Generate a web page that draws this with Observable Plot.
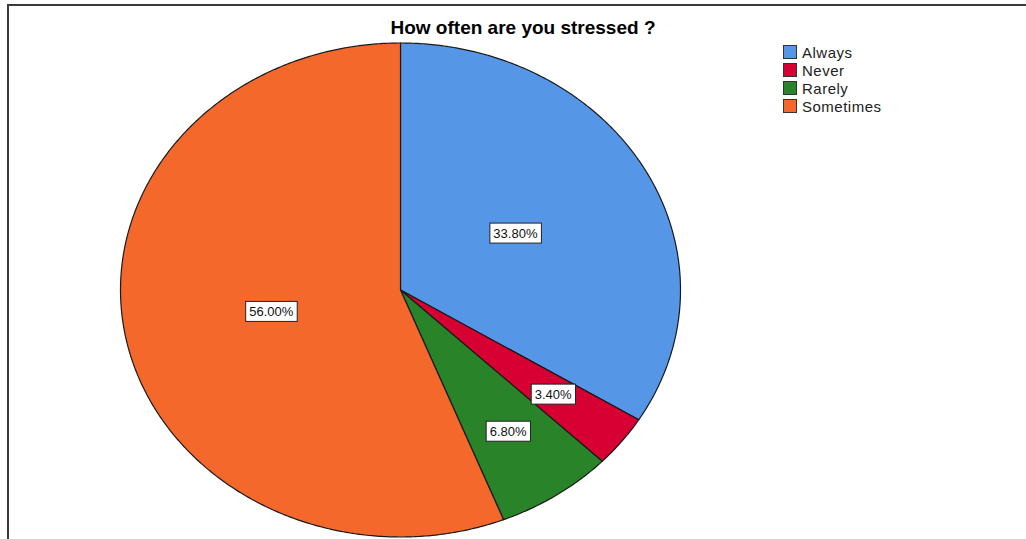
<!DOCTYPE html>
<html><head><meta charset="utf-8">
<script src="https://cdn.jsdelivr.net/npm/d3@7"></script>
<script src="https://cdn.jsdelivr.net/npm/@observablehq/plot@0.6"></script>
<style>
html,body{margin:0;padding:0;background:#fff;}
#wrap{position:relative;width:1026px;height:539px;overflow:hidden;font-family:"Liberation Sans",Arial,sans-serif;}
#chart{position:absolute;left:0;top:0;}
#frame{position:absolute;left:7px;top:4px;width:1100px;height:600px;border-top:2px solid #3a3a3a;border-left:2px solid #3a3a3a;}
#title{position:absolute;left:10px;width:1026px;top:17px;text-align:center;font-weight:bold;font-size:19px;color:#000;}
#legend{position:absolute;left:783px;top:43px;font-size:15px;letter-spacing:0.5px;color:#222;}
.row{display:flex;align-items:center;height:18px;}
.sw{width:14px;height:14px;border:1px solid #333;box-sizing:border-box;margin-right:5px;}
</style>
</head><body>
<div id="wrap">
  <div id="chart"></div>
  <div id="frame"></div>
  <div id="title"></div>
  <div id="legend"></div>
</div>
<script>
const titleText = "How often are you stressed ?";
const categories = ["Always", "Never", "Rarely", "Sometimes"];
const percents = [33.8, 3.4, 6.8, 56.0];
const labels = ["33.80%", "3.40%", "6.80%", "56.00%"];
const colors = ["#5596E6", "#D60032", "#298329", "#F4682C"];

document.getElementById("title").textContent = titleText;
const leg = document.getElementById("legend");
categories.forEach((c, i) => {
  const row = document.createElement("div"); row.className = "row";
  const sw = document.createElement("div"); sw.className = "sw"; sw.style.background = colors[i];
  const t = document.createElement("span"); t.textContent = c;
  row.appendChild(sw); row.appendChild(t); leg.appendChild(row);
});

const total = d3.sum(percents);
let acc = 0;
const pts = [], lab = [];
percents.forEach((v, i) => {
  const cat = categories[i];
  const a0 = acc / total * 2 * Math.PI, a1 = (acc + v) / total * 2 * Math.PI;
  acc += v;
  pts.push({cat, x: 0, y: 0});
  const n = Math.max(2, Math.ceil((a1 - a0) / (Math.PI / 360)));
  for (let k = 0; k <= n; k++) {
    const a = a0 + (a1 - a0) * k / n;
    pts.push({cat, x: Math.sin(a), y: Math.cos(a)});
  }
  pts.push({cat, x: 0, y: 0});
  const am = (a0 + a1) / 2, r = v / total > 0.3 ? 0.47 : 0.69;
  lab.push({label: labels[i], x: r * Math.sin(am), y: r * Math.cos(am)});
});

const chart = Plot.plot({
  width: 1026, height: 539, margin: 0,
  style: {fontFamily: '"Liberation Sans", Arial, sans-serif', background: "transparent"},
  x: {domain: [-1, 1], range: [120, 680], axis: null},
  y: {domain: [-1, 1], range: [536.5, 42.5], axis: null},
  color: {domain: categories, range: colors},
  marks: [
    Plot.line(pts, {x: "x", y: "y", z: "cat", fill: "cat", stroke: "#1a1a1a", strokeWidth: 1.2, strokeLinejoin: "round", curve: "linear"}),
    Plot.text(lab, {x: "x", y: "y", text: "label", fontSize: 13, fill: "#111"})
  ]
});
document.getElementById("chart").appendChild(chart);

// white boxes behind the slice labels
const texts = Array.from(chart.querySelectorAll("text")).filter(t => labels.includes(t.textContent));
texts.forEach(t => {
  const b = t.getBBox();
  const r = document.createElementNS("http://www.w3.org/2000/svg", "rect");
  r.setAttribute("x", b.x - 3.5);
  r.setAttribute("y", b.y - 2.5);
  r.setAttribute("width", b.width + 7);
  r.setAttribute("height", b.height + 5);
  r.setAttribute("fill", "#fff");
  r.setAttribute("stroke", "#222");
  r.setAttribute("stroke-width", 1);
  const tr = t.getAttribute("transform");
  if (tr) r.setAttribute("transform", tr);
  t.parentNode.insertBefore(r, t);
});
</script>
</body></html>
